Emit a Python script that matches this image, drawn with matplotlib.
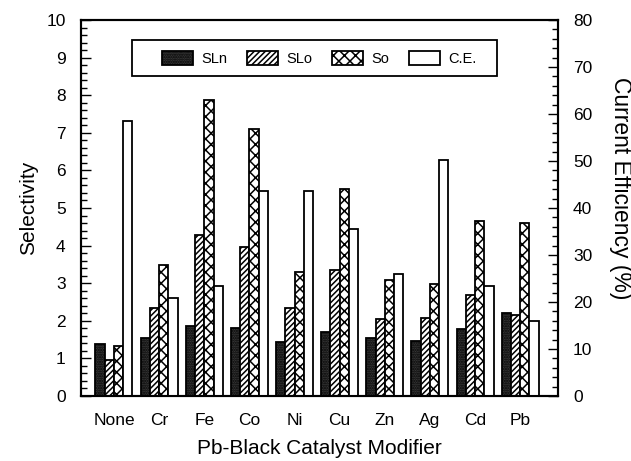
import matplotlib
matplotlib.use("Agg")
import matplotlib.pyplot as plt
import numpy as np
from matplotlib.ticker import MultipleLocator
from matplotlib.patches import Rectangle

plt.rcParams['font.family'] = ['Liberation Sans', 'DejaVu Sans']
plt.rcParams['hatch.linewidth'] = 1.1

categories = ['None', 'Cr', 'Fe', 'Co', 'Ni', 'Cu', 'Zn', 'Ag', 'Cd', 'Pb']
sln = [1.37, 1.55, 1.86, 1.81, 1.44, 1.71, 1.53, 1.46, 1.78, 2.20]
slo = [0.97, 2.33, 4.27, 3.97, 2.35, 3.36, 2.05, 2.07, 2.69, 2.15]
so = [1.32, 3.49, 7.87, 7.11, 3.30, 5.51, 3.09, 2.97, 4.66, 4.61]
ce = [58.6, 20.8, 23.3, 43.6, 43.7, 35.6, 25.9, 50.2, 23.5, 16.0]

fig = plt.figure(figsize=(6.31, 4.61), dpi=100)
ax = fig.add_axes([0.1284, 0.141, 0.7554, 0.8156])
ax2 = ax.twinx()

x = np.arange(len(categories))
w = 0.205
lw = 1.3
b1 = ax.bar(x - 1.5 * w, sln, w, facecolor='#3a3a3a', edgecolor='black', hatch='.......', linewidth=lw, label='SLn')
b2 = ax.bar(x - 0.5 * w, slo, w, facecolor='white', edgecolor='black', hatch='//////', linewidth=lw, label='SLo')
b3 = ax.bar(x + 0.5 * w, so, w, facecolor='white', edgecolor='black', hatch='xxx', linewidth=lw, label='So')
b4 = ax2.bar(x + 1.5 * w, ce, w, facecolor='white', edgecolor='black', linewidth=lw, label='C.E.')

ax.set_xlim(-0.73, 9.83)
ax.set_ylim(0, 10)
ax2.set_ylim(0, 80)
ax.set_xticks(x)
ax.set_xticklabels(categories, fontsize=12.5)
ax.tick_params(axis='x', length=0, pad=12)
ax.yaxis.set_major_locator(MultipleLocator(1))
ax.yaxis.set_minor_locator(MultipleLocator(0.2))
ax2.yaxis.set_major_locator(MultipleLocator(10))
ax2.yaxis.set_minor_locator(MultipleLocator(2))
ax.tick_params(axis='y', which='major', direction='in', length=7, width=1, labelsize=12.5, pad=11)
ax.tick_params(axis='y', which='minor', direction='in', length=4, width=1)
ax2.tick_params(axis='y', which='major', direction='in', length=7, width=1, labelsize=12.5, pad=11)
ax2.tick_params(axis='y', which='minor', direction='in', length=4, width=1)

for a in (ax, ax2):
    for s in a.spines.values():
        s.set_linewidth(1.5)

ax.set_ylabel('Selectivity', fontsize=15, labelpad=6)
ax2.set_ylabel('Current Efficiency (%)', fontsize=16.5, rotation=270, va='center', ha='center')
ax2.yaxis.set_label_coords(1.131, 0.553)
ax.set_xlabel('Pb-Black Catalyst Modifier', fontsize=15, labelpad=8)

# legend frame
frame = Rectangle((0.107, 0.852), 0.766, 0.0935, transform=ax2.transAxes,
                  facecolor='white', edgecolor='black', linewidth=1.3, zorder=5)
ax2.add_patch(frame)
leg = ax2.legend([b1, b2, b3, b4], ['SLn', 'SLo', 'So', 'C.E.'], ncol=4,
                 loc='center', bbox_to_anchor=(0.107 + 0.766 / 2 + 0.01, 0.852 + 0.0935 / 2),
                 fontsize=10.5, frameon=False, handlelength=2.1, handleheight=1.1,
                 handletextpad=0.6, columnspacing=1.35, borderpad=0, borderaxespad=0)
leg.set_zorder(6)

fig.savefig('out.png', dpi=100)
